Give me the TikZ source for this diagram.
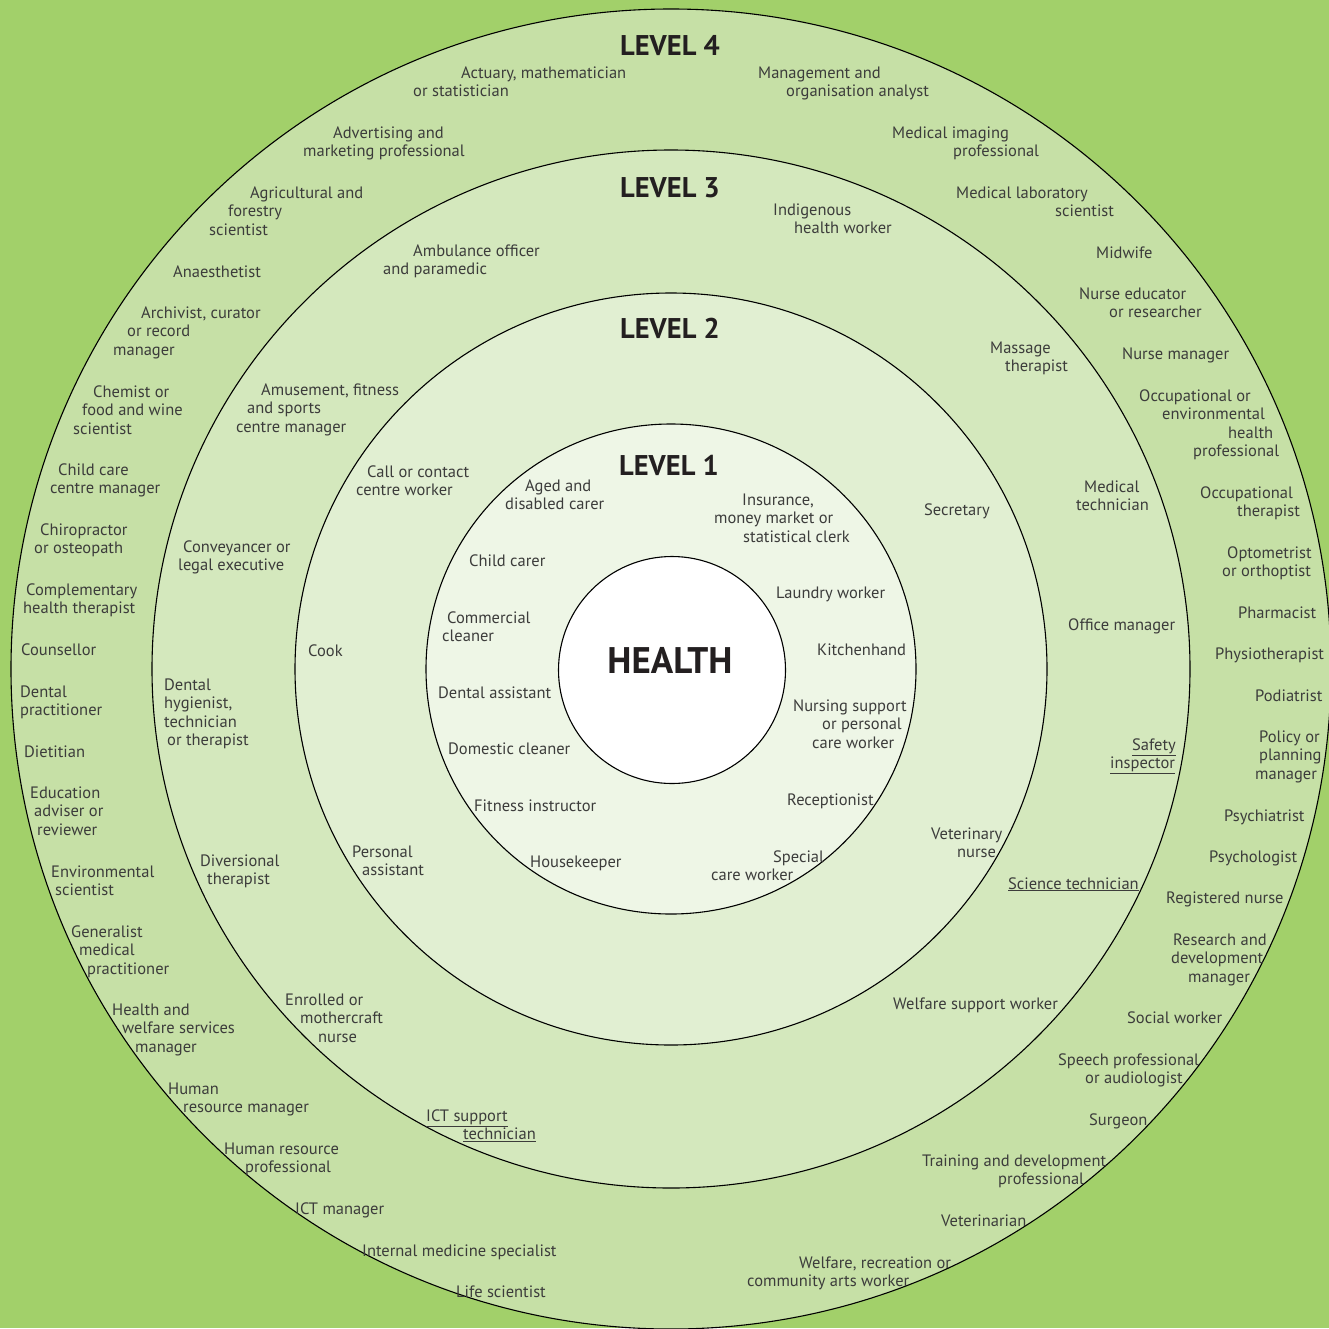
\documentclass[tikz,border=0pt]{standalone}
\usepackage{fontspec}
\setmainfont{PT Sans}
\definecolor{bggreen}{HTML}{A2D06A}
\definecolor{ringfour}{HTML}{C6E0A6}
\definecolor{ringthree}{HTML}{D4E8BD}
\definecolor{ringtwo}{HTML}{E1EFD2}
\definecolor{ringone}{HTML}{EEF6E6}
\definecolor{txt}{HTML}{3C3C3B}
\definecolor{headtxt}{HTML}{231F20}
\newcommand{\ind}[1]{\hspace*{#1pt}}
\newcommand{\jb}[1]{\begin{tabular}[t]{@{}l@{}}#1\end{tabular}}
\tikzset{
  job/.style={anchor=base west,inner sep=0,text=txt,
    font=\fontsize{16.5}{18.6}\selectfont},
  levelhead/.style={anchor=base,inner sep=0,text=headtxt,
    font=\fontsize{28.5}{30}\selectfont\bfseries}
}
\begin{document}
\begin{tikzpicture}[x=1pt,y=-1pt]
        \fill[bggreen] (0,0) rectangle (1329,1328);
        \useasboundingbox (0,0) rectangle (1329,1328);

        \begin{scope}[every node/.style={circle,draw,line width=1.1pt,inner sep=0}]
          \node[fill=ringfour,minimum size=1320pt]  (l4) at (671,669) {};
          \node[fill=ringthree,minimum size=1038pt] (l3) at (671,669) {};
          \node[fill=ringtwo,minimum size=752pt]    (l2) at (671,669) {};
          \node[fill=ringone,minimum size=490pt]    (l1) at (671,669) {};
          \node[fill=white,minimum size=227pt]      (hc) at (672,670) {};
        \end{scope}

        \node[levelhead] (h4) at (670,55)  {LEVEL 4};
        \node[levelhead] (h3) at (670,197) {LEVEL 3};
        \node[levelhead] (h2) at (670,338) {LEVEL 2};
        \node[levelhead] (h1) at (669,475) {LEVEL 1};
        \node[levelhead,font=\fontsize{37}{40}\selectfont\bfseries] (health) at (670,673) {HEALTH};

        \begin{scope}[every node/.style={job}]
          \node (a1)  at (413,78)   {\jb{\ind{48}Actuary, mathematician\\or statistician}};
          \node (a2)  at (758,78)   {\jb{Management and\\\ind{28}organisation analyst}};
          \node (a3)  at (303,138)  {\jb{\ind{30}Advertising and\\marketing professional}};
          \node (a4)  at (892,138)  {\jb{Medical imaging\\\ind{61}professional}};
          \node (a5)  at (209,198)  {\jb{\ind{41}Agricultural and\\\ind{19}forestry\\scientist}};
          \node (a6)  at (956,198)  {\jb{Medical laboratory\\\ind{99}scientist}};
          \node (a7)  at (173,277)  {Anaesthetist};
          \node (a8)  at (1096,258) {Midwife};
          \node (a9)  at (113,318)  {\jb{\ind{28}Archivist, curator\\\ind{14}or record\\manager}};
          \node (a10) at (1079,299) {\jb{Nurse educator\\\ind{30}or researcher}};
          \node (a11) at (1122,359) {Nurse manager};
          \node (a12) at (73,397)   {\jb{\ind{20}Chemist or\\\ind{9}food and wine\\scientist}};
          \node (a13) at (1139,401) {\jb{Occupational or\\\ind{23}environmental\\\ind{89}health\\\ind{54}professional}};
          \node (a14) at (50,475)   {\jb{\ind{8}Child care\\centre manager}};
          \node (a15) at (1200,498) {\jb{Occupational\\\ind{37}therapist}};
          \node (a16) at (34,535)   {\jb{\ind{6}Chiropractor\\or osteopath}};
          \node (a17) at (1222,558) {\jb{\ind{5}Optometrist\\or orthoptist}};
          \node (a18) at (23,595)   {\jb{\ind{3}Complementary\\health therapist}};
          \node (a19) at (1238,618) {Pharmacist};
          \node (a20) at (21,655)   {Counsellor};
          \node (a21) at (1215,659) {Physiotherapist};
          \node (a22) at (20,697)   {\jb{Dental\\practitioner}};
          \node (a23) at (1255,701) {Podiatrist};
          \node (a24) at (24,757)   {Dietitian};
          \node (a25) at (1255,742) {\jb{\ind{4}Policy or\\\ind{4}planning\\manager}};
          \node (a26) at (30,798)   {\jb{Education\\\ind{4}adviser or\\\ind{7}reviewer}};
          \node (a27) at (1224,821) {Psychiatrist};
          \node (a28) at (1209,862) {Psychologist};
          \node (a29) at (51,877)   {\jb{Environmental\\\ind{4}scientist}};
          \node (a30) at (1166,903) {Registered nurse};
          \node (a31) at (71,937)   {\jb{Generalist\\\ind{8}medical\\\ind{16}practitioner}};
          \node (a32) at (1171,945) {\jb{\ind{2}Research and\\development\\\ind{17}manager}};
          \node (a33) at (112,1015) {\jb{Health and\\\ind{10}welfare services\\\ind{23}manager}};
          \node (a34) at (1127,1023) {Social worker};
          \node (a35) at (1058,1065) {\jb{Speech professional\\\ind{27}or audiologist}};
          \node (a36) at (168,1094) {\jb{Human\\\ind{15}resource manager}};
          \node (a37) at (1089,1125) {Surgeon};
          \node (a38) at (224,1154) {\jb{Human resource\\\ind{21}professional}};
          \node (a39) at (922,1166) {\jb{Training and development\\\ind{76}professional}};
          \node (a40) at (295,1214) {ICT manager};
          \node (a41) at (941,1226) {Veterinarian};
          \node (a42) at (362,1256) {Internal medicine specialist};
          \node (a43) at (747,1268) {\jb{\ind{52}Welfare, recreation or\\community arts worker}};
          \node (a44) at (456,1297) {Life scientist};

          \node (b1)  at (773,215)  {\jb{Indigenous\\\ind{21}health worker}};
          \node (b2)  at (383,256)  {\jb{\ind{30}Ambulance officer\\and paramedic}};
          \node (b3)  at (990,353)  {\jb{Massage\\\ind{15}therapist}};
          \node (b4)  at (236,395)  {\jb{\ind{25}Amusement, fitness\\\ind{11}and sports\\centre manager}};
          \node (b5)  at (1076,492) {\jb{\ind{8}Medical\\technician}};
          \node (b6)  at (178,552)  {\jb{\ind{5}Conveyancer or\\legal executive}};
          \node (b7)  at (1068,630) {Office manager};
          \node (b8)  at (164,690)  {\jb{Dental\\hygienist,\\technician\\\ind{3}or therapist}};
          \node (b9)  at (1110,750) {\jb{\ind{22}\underline{Safety}\\\underline{inspector}}};
          \node (b10) at (200,866)  {\jb{Diversional\\\ind{7}therapist}};
          \node (b11) at (1008,889) {\underline{Science technician}};
          \node (b12) at (285,1005) {\jb{Enrolled or\\\ind{15}mothercraft\\\ind{33}nurse}};
          \node (b13) at (893,1009) {Welfare support worker};
          \node (b14) at (426,1121) {\jb{\underline{ICT support}\\\ind{37}\underline{technician}}};

          \node (c1)  at (356,477)  {\jb{\ind{11}Call or contact\\centre worker}};
          \node (c2)  at (924,515)  {Secretary};
          \node (c3)  at (308,656)  {Cook};
          \node (c4)  at (352,857)  {\jb{Personal\\\ind{10}assistant}};
          \node (c5)  at (931,839)  {\jb{Veterinary\\\ind{26}nurse}};

          \node (d1)  at (505,491)  {\jb{\ind{20}Aged and\\disabled carer}};
          \node (d2)  at (714,505)  {\jb{\ind{28}Insurance,\\money market or\\\ind{29}statistical clerk}};
          \node (d3)  at (469,566)  {Child carer};
          \node (d4)  at (776,598)  {Laundry worker};
          \node (d5)  at (442,623)  {\jb{\ind{5}Commercial\\cleaner}};
          \node (d6)  at (817,655)  {Kitchenhand};
          \node (d7)  at (438,698)  {Dental assistant};
          \node (d8)  at (793,711)  {\jb{Nursing support\\\ind{29}or personal\\\ind{19}care worker}};
          \node (d9)  at (448,754)  {Domestic cleaner};
          \node (d10) at (474,811)  {Fitness instructor};
          \node (d11) at (787,805)  {Receptionist};
          \node (d12) at (530,867)  {Housekeeper};
          \node (d13) at (711,862)  {\jb{\ind{62}Special\\care worker}};
        \end{scope}

      \end{tikzpicture}
\end{document}
